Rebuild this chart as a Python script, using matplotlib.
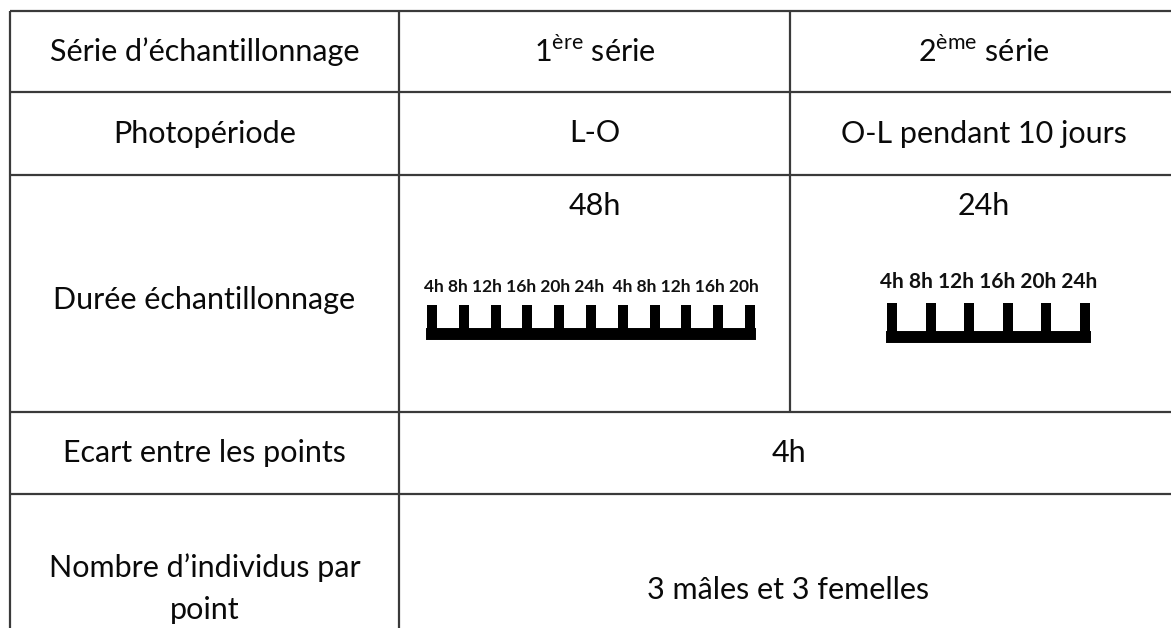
import numpy as np
import matplotlib.pyplot as plt

plt.rcParams['font.family'] = ['Lato', 'DejaVu Sans']
plt.rcParams['mathtext.fontset'] = 'custom'
plt.rcParams['mathtext.rm'] = 'Lato'

W, H = 1171, 628

# table content
row_headers = ["Série d\u2019échantillonnage", "Photopériode", "Durée échantillonnage",
               "Ecart entre les points", "Nombre d\u2019individus par\npoint"]
series_names = ["1$^{\\mathrm{ère}}$ série", "2$^{\\mathrm{ème}}$ série"]
photoperiods = ["L-O", "O-L pendant 10 jours"]
durations = ["48h", "24h"]
gap_text = "4h"
individuals_text = "3 mâles et 3 femelles"

# sampling times of each series, one list per day
times_1 = [["4h", "8h", "12h", "16h", "20h", "24h"], ["4h", "8h", "12h", "16h", "20h"]]
times_2 = [["4h", "8h", "12h", "16h", "20h", "24h"]]

# layout (pixels)
col_edges = [10, 399, 790, 1178]
row_edges = [11, 92, 175, 412, 494, 690]
line_kw = dict(color='#3a3a3a', lw=1.6)
font_size = 22

fig = plt.figure(figsize=(W / 100, H / 100), dpi=100)
ax = fig.add_axes([0, 0, 1, 1])
ax.set_xlim(0, W)
ax.set_ylim(H, 0)
ax.axis('off')

# horizontal rules
for y in row_edges:
    ax.hlines(y, col_edges[0], col_edges[-1], **line_kw)
# vertical rules
ax.vlines(col_edges[0], row_edges[0], row_edges[-1], **line_kw)
ax.vlines(col_edges[1], row_edges[0], row_edges[-1], **line_kw)
ax.vlines(col_edges[2], row_edges[0], row_edges[3], **line_kw)


def cx(c0, c1):
    return (col_edges[c0] + col_edges[c1]) / 2


def cy(r):
    return (row_edges[r] + row_edges[r + 1]) / 2


txt = dict(ha='center', va='center', fontsize=font_size, color='#0a0a0a')

# first column
ys = [cy(0), cy(1), 300, cy(3), 589]
for label, y in zip(row_headers, ys):
    ax.text(cx(0, 1), y, label, linespacing=1.6, **txt)

for i in range(2):
    ax.text(cx(i + 1, i + 2), cy(0), series_names[i], **txt)
    ax.text(cx(i + 1, i + 2), cy(1), photoperiods[i], **txt)
    ax.text(cx(i + 1, i + 2), 206, durations[i], **txt)

ax.text(cx(1, 3), cy(3), gap_text, **txt)
ax.text(cx(1, 3), 590, individuals_text, **txt)


def draw_scale(days, x_first, x_last, y_label, y_top, y_bar, fs):
    n = sum(len(d) for d in days)
    step = (x_last - x_first) / (n - 1)
    pad = 0.6
    left, right = x_first - pad * step, x_last + pad * step
    top, bottom = y_label - 15, y_bar + 15
    tax = fig.add_axes([left / W, 1 - bottom / H, (right - left) / W, (bottom - top) / H])
    tax.set_xlim(-pad, n - 1 + pad)
    tax.set_ylim(bottom, top)
    tax.axis('off')
    idx = np.arange(n)
    tax.vlines(idx, y_top, y_bar, color='black', lw=7.2)
    bar = tax.hlines(y_bar, idx[0], idx[-1], color='black', lw=8.6)
    bar.set_capstyle('projecting')
    label = "  ".join(" ".join(d) for d in days)
    tax.text((n - 1) / 2, y_label, label, ha='center', va='center', fontsize=fs,
             fontweight='bold', color='#111111')


draw_scale(times_1, 432, 750, 287, 305, 334, 12.5)
draw_scale(times_2, 892, 1085, 282, 303, 337, 15)

fig.savefig('out.png', dpi=100)
